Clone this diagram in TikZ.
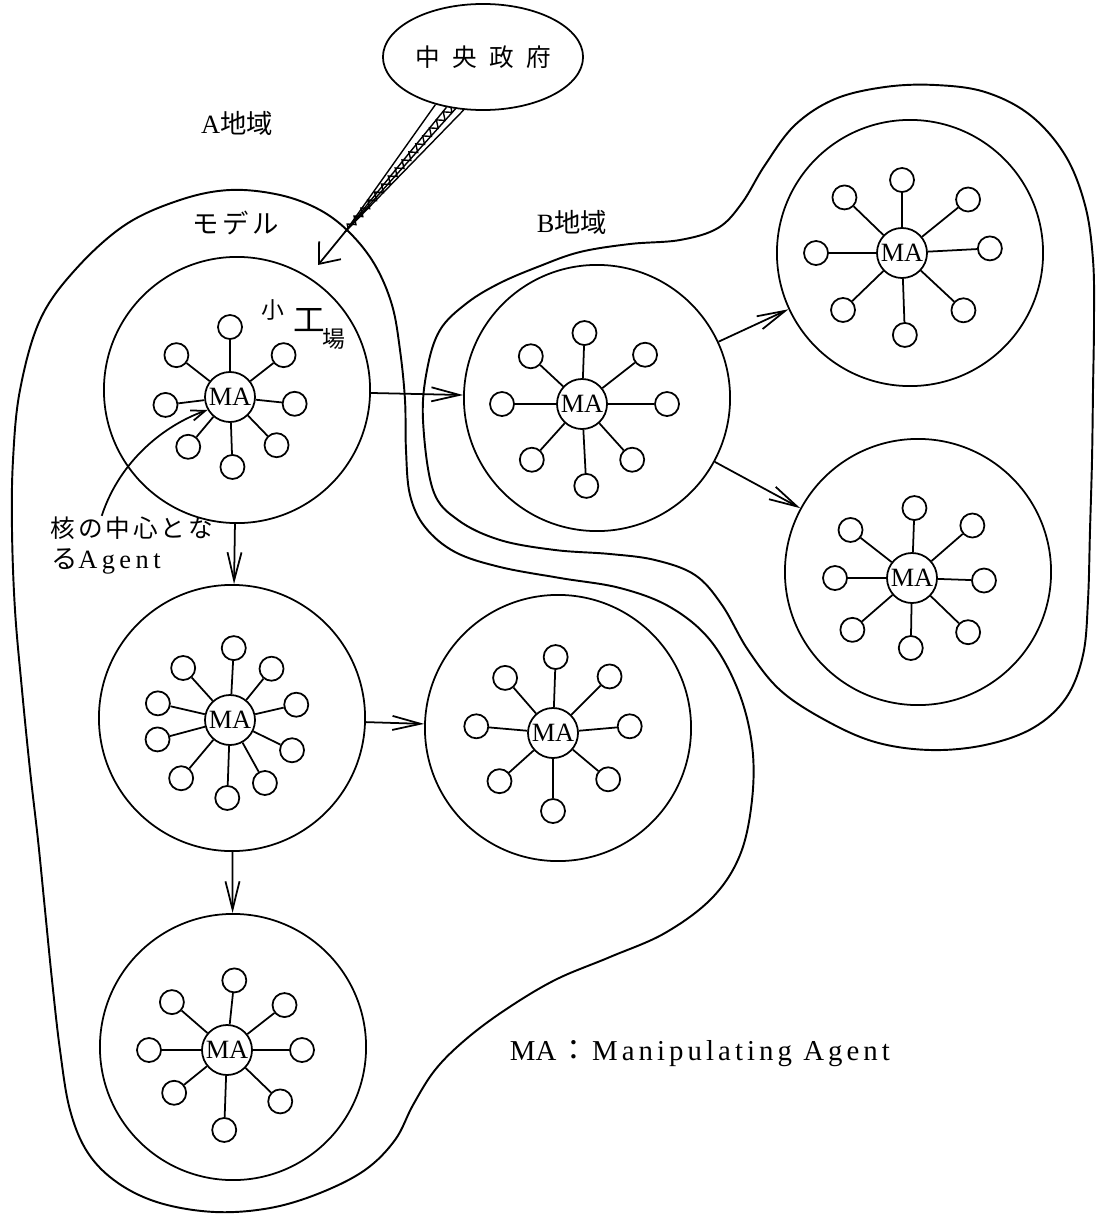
\documentclass[tikz,border=0pt]{standalone}
\usepackage{fontspec}
\setmainfont{Liberation Serif}
\newfontfamily\jp{Noto Sans CJK JP}
\usepackage{tikz}
\usetikzlibrary{arrows.meta,shapes.geometric,decorations.pathmorphing}

% one MA with its satellite agents: name, position, angle/distance list
\newcommand\agentcell[3]{%
  \node[ma] (#1) at (#2) {MA};
  \foreach \ang/\dist [count=\k] in {#3}
  {
    \path (#1) ++(\ang:\dist) node[sub] (#1-\k) {};
    \draw (#1) -- (#1-\k);
  }
}

\begin{document}
\begin{tikzpicture}[x=0.01cm,y=0.01cm,line width=0.5pt,
  factory/.style={circle,draw,minimum size=2.66cm,inner sep=0pt},
  ma/.style={circle,draw,minimum size=0.5cm,inner sep=0pt,font=\fontsize{7.5}{8}\selectfont},
  sub/.style={circle,draw,minimum size=0.24cm,inner sep=0pt},
  jplabel/.style={font=\jp\fontsize{7.5}{8}\selectfont,inner sep=0pt},
  spread/.style={-{Straight Barb[length=8pt,width=4pt]}},
  region/.style={line width=0.55pt}]
  \useasboundingbox (0,0) rectangle (1096,-1224);

  % Factories
  \node[factory] (f1) at (237,-390) {};
  \node[factory] (f2) at (597,-398) {};
  \node[factory] (f3) at (910,-253) {};
  \node[factory] (f4) at (918,-572) {};
  \node[factory] (f5) at (232,-718) {};
  \node[factory] (f6) at (558,-728) {};
  \node[factory] (f7) at (233,-1047) {};

  % Manipulating agents and their satellites
  \agentcell{m1}{230,-397}{90/70, 38/68, -6/65, -46/67, -88/70, -130/65, 187/65, 142/68}
  \agentcell{m2}{582,-404}{88/71, 38/80, 0/85, -48/75, -87/82, -132/75, 180/80, 137/70}
  \agentcell{m3}{902,-253}{90/73, 39/85, 3/88, -43/84, -88/82, -136/82, 180/86, 136/80}
  \agentcell{m4}{912,-578}{88/70, 41/80, -2/72, -44/78, -91/70, -139/79, 180/77, 142/78}
  \agentcell{m5}{230,-720}{87/72, 51/66, 13/68, -26/69, -61/72, -92/78, -130/76, 195/75, 167/74, 132/70}
  \agentcell{m6}{553,-733}{88/76, 45/80, 5/77, -40/72, -90/78, -138/72, 175/77, 131/73}
  \agentcell{m7}{227,-1050}{84/70, 38/73, 0/75, -44/74, -92/80, -141/68, 180/78, 139/73}

  % Growth between factories
  \draw[spread] (f1) -- (f2);
  \draw[spread] (f2) -- (f3);
  \draw[spread] (f2) -- (f4);
  \draw[spread] (f1) -- (f5);
  \draw[spread] (f5) -- (f6);
  \draw[spread] (f5) -- (f7);

  % Region A
  \draw[region] plot[smooth cycle,tension=0.6] coordinates {
    (180,-200) (230,-190) (280,-195) (320,-210) (350,-233) (375,-265)
    (392,-305) (400,-350) (405,-400) (406,-450) (410,-495) (425,-527)
    (455,-552) (500,-567) (560,-578) (620,-588) (670,-607) (710,-640)
    (738,-690) (752,-745) (752,-800) (740,-855) (712,-898) (665,-933)
    (610,-957) (555,-980) (505,-1010) (465,-1040) (435,-1070) (413,-1105)
    (395,-1140) (365,-1170) (320,-1193) (270,-1208) (215,-1212) (160,-1203)
    (118,-1183) (88,-1153) (70,-1110) (60,-1050) (52,-980) (45,-910)
    (38,-840) (30,-770) (22,-690) (15,-610) (12,-530) (13,-460)
    (20,-390) (40,-320) (75,-270) (125,-225)};

  % Region B
  \draw[region] plot[smooth cycle,tension=0.6] coordinates {
    (423,-420) (427,-370) (440,-330) (467,-303) (500,-283) (540,-266)
    (580,-252) (630,-244) (680,-240) (718,-228) (742,-203) (765,-165)
    (795,-125) (835,-99) (885,-87) (935,-85) (985,-92) (1030,-115)
    (1065,-155) (1085,-205) (1093,-260) (1094,-320) (1093,-390) (1092,-460)
    (1090,-530) (1088,-600) (1083,-655) (1066,-698) (1033,-728) (985,-745)
    (930,-750) (875,-742) (825,-720) (780,-690) (748,-650) (722,-605)
    (695,-575) (655,-560) (610,-554) (555,-550) (500,-540) (458,-520)
    (433,-490)};

  % Central government and its bundle of links
  \node[ellipse,draw,minimum width=2cm,minimum height=1.06cm,inner sep=0pt,
        font=\jp\fontsize{7}{8}\selectfont] (gov) at (483,-57)
        {中\hspace{3.5pt}央\hspace{3.5pt}政\hspace{3.5pt}府};
  \coordinate (hub) at (345,-232);
  \coordinate (tip) at (318,-265);
  \foreach \a in {-135,-126,-118,-110}
    \draw[line width=0.4pt] (gov.\a) -- (hub);
  \draw[line width=0.4pt,decorate,decoration={zigzag,amplitude=1pt,segment length=3pt}]
    (gov.-122) -- (hub);
  \draw[-{Straight Barb[length=5pt,width=8pt]}] (hub) -- (tip);

  % Labels
  \node[jplabel] (areaA) at (237,-123) {{\rmfamily A}地域};
  \node[jplabel] (model) at (236,-223) {モ\hspace{1pt}デ\hspace{1pt}ル};
  \node[jplabel] (areaB) at (572,-222) {{\rmfamily B}地域};
  \node[font=\jp\fontsize{6.5}{7}\selectfont,inner sep=0pt] (sho) at (273,-310) {小};
  \node[font=\jp\fontsize{9}{10}\selectfont,inner sep=0pt] (ko) at (309,-320) {工};
  \node[font=\jp\fontsize{6.5}{7}\selectfont,inner sep=0pt] (ba) at (334,-339) {場};

  \node[jplabel,anchor=west,font=\jp\fontsize{7}{8}\selectfont] (core) at (50,-528)
    {核\hspace{0.8pt}の\hspace{0.8pt}中\hspace{0.8pt}心\hspace{0.8pt}と\hspace{0.8pt}な};
  \node[jplabel,anchor=west] (core2) at (51,-561)
    {る{\rmfamily\addfontfeature{LetterSpace=17}Agent}};
  \draw[-{Straight Barb[length=4pt,width=3pt]}] ([xshift=-0.3cm]core.north)
    .. controls (120,-460) and (165,-425) .. (m1.210);

  \node[anchor=west,inner sep=0pt,font=\fontsize{8.2}{9}\selectfont] (legend) at (509,-1054)
    {MA\hspace{1pt}{\jp ：}\hspace{1pt}{\addfontfeature{LetterSpace=14}Manipulating Agent}};
\end{tikzpicture}
\end{document}
